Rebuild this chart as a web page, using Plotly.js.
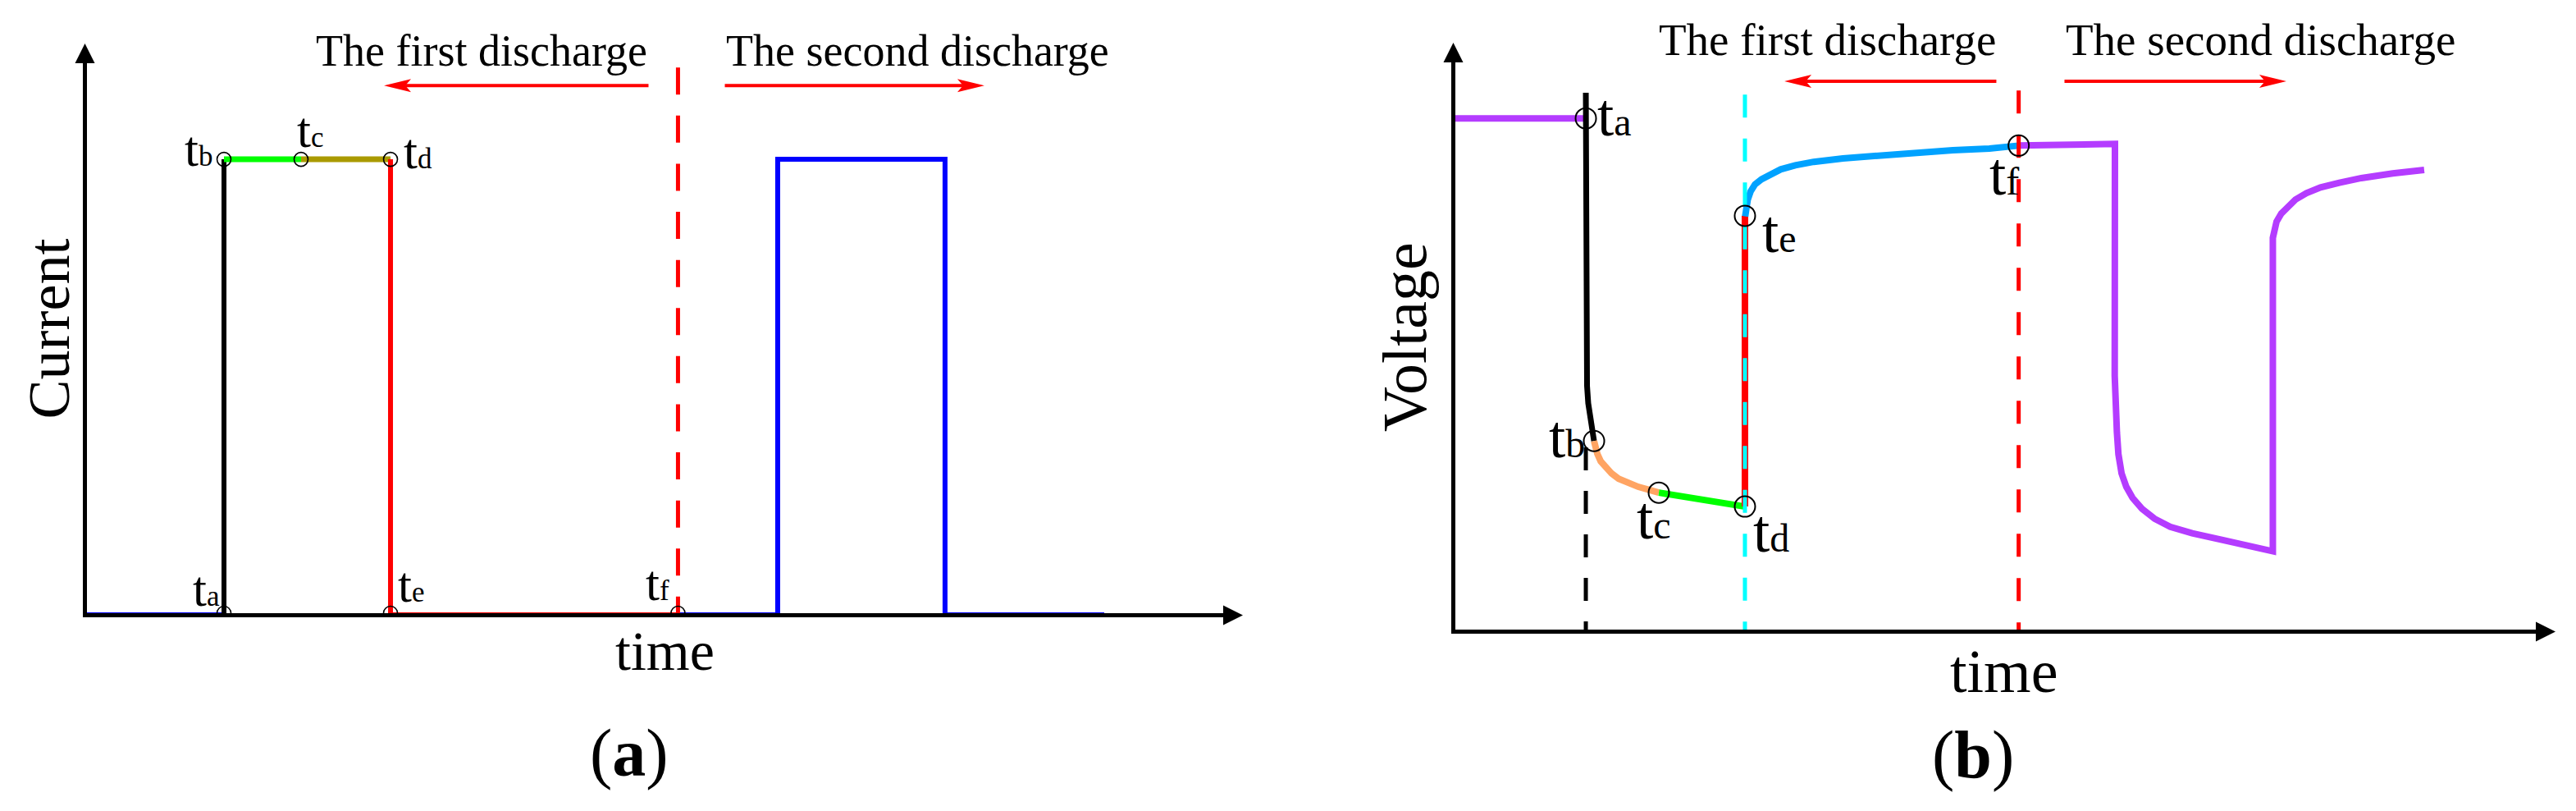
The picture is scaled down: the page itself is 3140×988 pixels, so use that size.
<!DOCTYPE html>
<html><head><meta charset="utf-8">
<script src="https://cdn.plot.ly/plotly-3.0.1.min.js"></script>
<style>html,body{margin:0;padding:0;background:#fff;}#chart{width:3140px;height:988px;}</style>
</head><body><div id="chart"></div>
<script>
// ================= Panel (a): current =================
const currentEventNames  = ['a', 'b', 'c', 'd', 'e', 'f'];
const currentEventTime   = [11.93, 11.93, 18.64, 26.43, 26.43, 51.46];
const currentEventLevel  = [0, 0.806, 0.806, 0.806, 0, 0];
const secondPulseTime    = [60.14, 60.14, 74.71, 74.71];
const secondPulseLevel   = [0, 0.806, 0.806, 0];
const currentRecordEnd   = 88.57;
const currentDividerTop  = 0.969;
const currentArrowLevel  = 0.937;
const currentFirstArrow  = [49.0, 25.86];   // tail, head
const currentSecondArrow = [55.43, 78.14];  // tail, head

// ================= Panel (b): voltage =================
const voltEventNames = ['a', 'b', 'c', 'd', 'e', 'f'];
const voltEventTime  = [11.94, 12.69, 18.62, 26.50, 26.50, 51.55];
const voltEventValue = [0.881, 0.325, 0.236, 0.212, 0.713, 0.834];
const restTime = [0, 11.94];
const restVolt = [0.881, 0.881];
const dropTime = [11.94, 11.94, 11.94, 12.05, 12.16, 12.32, 12.46, 12.69];
const dropVolt = [0.925, 0.881, 0.461, 0.420, 0.390, 0.370, 0.354, 0.325];
const polarTime = [12.69, 12.85, 12.99, 13.30, 13.74, 14.30, 14.94, 15.80, 16.74, 17.70, 18.62];
const polarVolt = [0.325, 0.312, 0.303, 0.290, 0.279, 0.269, 0.260, 0.252, 0.246, 0.241, 0.236];
const plateauTime = [18.62, 21.70, 24.10, 26.50];
const plateauVolt = [0.236, 0.226, 0.219, 0.212];
const recoveryTime = [26.52, 26.62, 26.76, 27.02, 27.42, 28.02, 28.76, 29.77, 31.11, 32.79,
                      35.47, 38.82, 42.17, 45.53, 48.87, 51.55];
const recoveryVolt = [0.712, 0.727, 0.741, 0.755, 0.767, 0.776, 0.784, 0.793, 0.800, 0.806,
                      0.812, 0.817, 0.822, 0.826, 0.829, 0.834];
const secondTime = [51.55, 60.36, 60.34, 60.40, 60.54, 60.68, 60.97, 61.40, 61.97, 62.84, 63.99,
                    65.42, 67.43, 70.31, 73.18, 74.62, 74.81,
                    74.81, 74.92, 75.15, 75.59, 76.16, 76.88, 77.88, 79.17, 80.90, 82.91, 85.78, 88.66];
const secondVolt = [0.834, 0.837, 0.437, 0.382, 0.340, 0.302, 0.269, 0.246, 0.227, 0.208, 0.191,
                    0.177, 0.166, 0.154, 0.142, 0.135, 0.135,
                    0.675, 0.686, 0.703, 0.717, 0.729, 0.741, 0.752, 0.762, 0.770, 0.778, 0.786, 0.792];
const voltDividerTop  = [0.314, 0.922, 0.929];   // at ta (black), td (cyan), tf (red)
const voltArrowLevel  = 0.945;
const voltFirstArrow  = [49.62, 30.11];
const voltSecondArrow = [55.63, 76.05];

// ================= styling / layout helpers =================
const W = 3140, H = 988;
const FONT = 'Liberation Serif, Times New Roman, serif';
const px = v => v / W;
const py = v => 1 - v / H;
const PURPLE = '#b43cff', ORANGE = '#ffa463', LBLUE = '#00a2ff', GREEN = '#00ff00', OLIVE = '#aa9a00';

function seg(x, y, color, width, ax, dash) {
  return {type: 'scatter', mode: 'lines', x: x, y: y, xaxis: ax[0], yaxis: ax[1],
          line: {color: color, width: width, dash: dash || 'solid'}, hoverinfo: 'skip'};
}
const A = ['x', 'y'], B = ['x2', 'y2'];
const tA = currentEventTime, iA = currentEventLevel;
const tB = voltEventTime, vB = voltEventValue;

const traces = [
  // panel (a)
  seg([0, tA[0]], [iA[0], iA[0]], 'blue', 2, A),
  seg([tA[0], tA[1]], [iA[0], iA[1]], 'black', 6, A),
  seg([tA[1], tA[2]], [iA[1], iA[2]], GREEN, 7, A),
  seg([tA[2], tA[3]], [iA[2], iA[3]], OLIVE, 7, A),
  seg([tA[3], tA[4]], [iA[3], iA[4]], 'red', 6, A),
  seg([tA[4], tA[5]], [iA[4], iA[5]], 'red', 2, A),
  seg([tA[5], secondPulseTime[0]], [iA[5], secondPulseLevel[0]], 'blue', 2, A),
  seg(secondPulseTime, secondPulseLevel, 'blue', 6, A),
  seg([secondPulseTime[3], currentRecordEnd], [secondPulseLevel[3], secondPulseLevel[3]], 'blue', 2, A),
  seg([tA[5], tA[5]], [currentDividerTop, 0], 'red', 5, A, '33px,25.6px'),
  {type: 'scatter', mode: 'markers', x: tA, y: iA, xaxis: 'x', yaxis: 'y', hoverinfo: 'skip',
   marker: {symbol: 'circle-open', size: 17, color: 'black', line: {width: 1.6, color: 'black'}}},
  // panel (b)
  seg(restTime, restVolt, PURPLE, 8, B),
  seg(dropTime, dropVolt, 'black', 7, B),
  seg(polarTime, polarVolt, ORANGE, 8, B),
  seg(plateauTime, plateauVolt, GREEN, 8, B),
  seg([tB[3], tB[4]], [vB[3], vB[4]], 'red', 8, B),
  seg(recoveryTime, recoveryVolt, LBLUE, 8, B),
  seg(secondTime, secondVolt, PURPLE, 8, B),
  seg([tB[0], tB[0]], [voltDividerTop[0], 0], 'black', 5, B, '28px,25px'),
  seg([tB[3], tB[3]], [voltDividerTop[1], 0], '#00ffff', 5, B, '28px,25.5px'),
  seg([tB[5], tB[5]], [voltDividerTop[2], 0], 'red', 5, B, '28px,26px'),
  {type: 'scatter', mode: 'markers', x: tB, y: vB, xaxis: 'x2', yaxis: 'y2', hoverinfo: 'skip',
   marker: {symbol: 'circle-open', size: 25, color: 'black', line: {width: 2, color: 'black'}}}
];

// label offsets (pixels) for t-labels
const labelShiftA = [[-22, 29.5], [-31, 12.5], [11.5, 35.5], [33.5, 9.5], [25.5, 34.5], [-24.5, 36.5]];
const labelShiftB = [[35, 3.5], [-33, 4.5], [-6, -31.5], [32, -30.5], [42, -19.5], [-18, -35.5]];

const annotations = [];
currentEventNames.forEach((n, i) => annotations.push({
  xref: 'x', yref: 'y', x: tA[i], y: iA[i], xshift: labelShiftA[i][0], yshift: labelShiftA[i][1],
  xanchor: 'center', yanchor: 'middle', showarrow: false,
  text: 't<span style="font-size:35px">' + n + '</span>', font: {family: FONT, size: 61, color: 'black'}
}));
voltEventNames.forEach((n, i) => annotations.push({
  xref: 'x2', yref: 'y2', x: tB[i], y: vB[i], xshift: labelShiftB[i][0], yshift: labelShiftB[i][1],
  xanchor: 'center', yanchor: 'middle', showarrow: false,
  text: 't<span style="font-size:48px">' + n + '</span>', font: {family: FONT, size: 73, color: 'black'}
}));

function txt(t, x, y, size, angle) {
  return {xref: 'paper', yref: 'paper', x: px(x), y: py(y), xanchor: 'center', yanchor: 'middle',
          showarrow: false, text: t, textangle: angle || 0, font: {family: FONT, size: size, color: 'black'}};
}
annotations.push(
  txt('The first discharge', 587, 62, 54),
  txt('The second discharge', 1118, 62, 54),
  txt('The first discharge', 2227, 48, 55),
  txt('The second discharge', 2755, 48, 55),
  txt('time', 810, 793, 68),
  txt('time', 2443, 818, 74),
  txt('Current', 60.4, 400, 72, -90),
  txt('Voltage', 1712, 411, 76, -90),
  txt('(<b>a</b>)', 767, 917, 82),
  txt('(<b>b</b>)', 2405, 919, 82)
);

// axis arrow heads
function axisHead(x, y, ax, ay) {
  return {xref: 'paper', yref: 'paper', x: px(x), y: py(y), ax: ax, ay: ay, text: '', showarrow: true,
          arrowhead: 2, arrowsize: 0.96, arrowwidth: 5, arrowcolor: 'black'};
}
annotations.push(
  axisHead(103.5, 53, 0, 40), axisHead(1515, 749.5, -40, 0),
  axisHead(1771.5, 52, 0, 40), axisHead(3115, 769.5, -40, 0)
);

// red discharge arrows (shafts)
function shaft(xr, yr, arr, level) {
  return {xref: xr, yref: yr, axref: xr, ayref: yr, x: arr[1], y: level, ax: arr[0], ay: level,
          text: '', showarrow: true, arrowhead: 0, arrowwidth: 4, arrowcolor: 'red', standoff: 26};
}
annotations.push(
  shaft('x', 'y', currentFirstArrow, currentArrowLevel),
  shaft('x', 'y', currentSecondArrow, currentArrowLevel),
  shaft('x2', 'y2', voltFirstArrow, voltArrowLevel),
  shaft('x2', 'y2', voltSecondArrow, voltArrowLevel)
);
function head(xr, yr, arr, level) {
  const left = arr[1] < arr[0];
  return {type: 'path', xref: xr, yref: yr, xsizemode: 'pixel', ysizemode: 'pixel',
          xanchor: arr[1], yanchor: level,
          path: left ? 'M0,0L33,8L26,0L33,-8Z' : 'M0,0L-33,8L-26,0L-33,-8Z',
          fillcolor: 'red', line: {width: 0}};
}
const shapes = [
  head('x', 'y', currentFirstArrow, currentArrowLevel),
  head('x', 'y', currentSecondArrow, currentArrowLevel),
  head('x2', 'y2', voltFirstArrow, voltArrowLevel),
  head('x2', 'y2', voltSecondArrow, voltArrowLevel)
];

const axisBase = {showline: true, linewidth: 5, linecolor: 'black', showgrid: false, zeroline: false,
                  showticklabels: false, ticks: '', fixedrange: true};
const layout = {
  width: W, height: H, margin: {l: 0, r: 0, t: 0, b: 0},
  paper_bgcolor: 'white', plot_bgcolor: 'rgba(0,0,0,0)', showlegend: false,
  font: {family: FONT, color: 'black'},
  xaxis:  Object.assign({}, axisBase, {domain: [106 / W, 1506 / W], range: [0, 100], anchor: 'y'}),
  yaxis:  Object.assign({}, axisBase, {domain: [(H - 747) / H, (H - 61) / H], range: [0, 1], anchor: 'x'}),
  xaxis2: Object.assign({}, axisBase, {domain: [1774 / W, 3106 / W], range: [0, 100], anchor: 'y2'}),
  yaxis2: Object.assign({}, axisBase, {domain: [(H - 767) / H, (H - 60) / H], range: [0, 1], anchor: 'x2'}),
  annotations: annotations,
  shapes: shapes
};
Plotly.newPlot('chart', traces, layout, {displayModeBar: false, staticPlot: true});
</script>
</body></html>
